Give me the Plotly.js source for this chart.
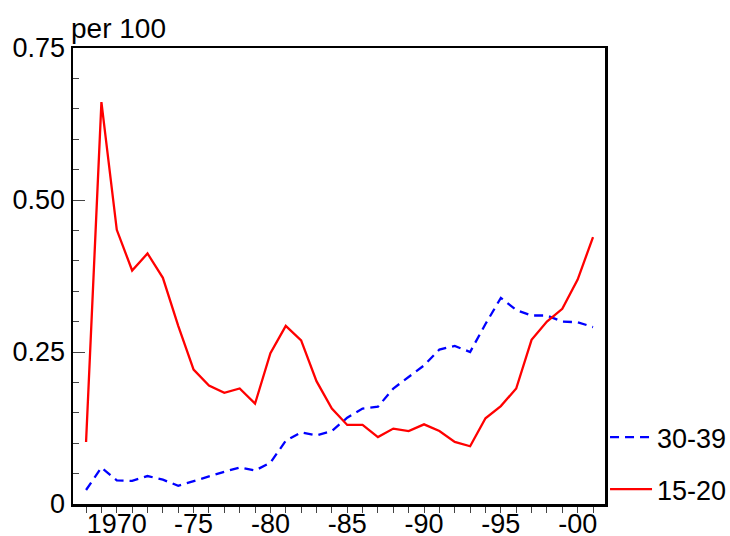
<!DOCTYPE html>
<html>
<head>
<meta charset="utf-8">
<script src="https://cdn.plot.ly/plotly-3.0.1.min.js"></script>
<style>html,body{margin:0;padding:0;background:#fff;}#chart{width:730px;height:536px;}</style>
</head>
<body>
<div id="chart"></div>
<script>
const years = [1968,1969,1970,1971,1972,1973,1974,1975,1976,1977,1978,1979,1980,1981,1982,1983,1984,1985,1986,1987,1988,1989,1990,1991,1992,1993,1994,1995,1996,1997,1998,1999,2000,2001];
const age30_39 = [0.023,0.060,0.039,0.038,0.046,0.040,0.030,0.038,0.046,0.053,0.060,0.055,0.068,0.104,0.118,0.113,0.120,0.142,0.157,0.160,0.190,0.209,0.228,0.254,0.260,0.250,0.296,0.339,0.319,0.310,0.310,0.300,0.299,0.291];
const age15_20 = [0.102,0.661,0.451,0.384,0.412,0.372,0.293,0.221,0.195,0.183,0.190,0.165,0.248,0.293,0.269,0.202,0.157,0.130,0.130,0.110,0.124,0.120,0.131,0.120,0.102,0.095,0.141,0.161,0.190,0.270,0.300,0.321,0.369,0.439];
const seriesNames = ["30-39","15-20"];
const xTickVals = [1970,1975,1980,1985,1990,1995,2000];
const xTickText = ["1970","-75","-80","-85","-90","-95","-00"];
const yTickVals = [0,0.25,0.5,0.75];
const yTickText = ["0","0.25","0.50","0.75"];
const yUnit = "per 100";

const font = {family: "Liberation Sans, Arial, sans-serif", size: 27, color: "#000"};

const traces = [
  {x: years, y: age30_39, name: seriesNames[0], type: "scatter", mode: "lines",
   line: {color: "#0000ff", width: 2.3, dash: "9px,6px"}, legendgroup: "a"},
  {x: years, y: age15_20, name: seriesNames[1], type: "scatter", mode: "lines",
   line: {color: "#ff0000", width: 2.3}, legendgroup: "b"}
];

const layout = {
  width: 730, height: 536,
  margin: {l: 73, r: 125, t: 48, b: 32, pad: 0, autoexpand: false},
  paper_bgcolor: "#fff", plot_bgcolor: "#fff",
  font: font,
  showlegend: true,
  legend: {xref: "container", yref: "container", x: 0.8288, xanchor: "left", y: 0.041, yanchor: "bottom",
           traceorder: "grouped", tracegroupgap: 14, itemwidth: 42, font: font,
           bgcolor: "rgba(0,0,0,0)", borderwidth: 0},
  xaxis: {
    range: [1967.15, 2001.78], tickmode: "array", tickvals: xTickVals, ticktext: xTickText,
    ticks: "outside", ticklen: 6, tickwidth: 1, tickcolor: "#444",
    minor: {ticks: "outside", ticklen: 6, tickwidth: 1, tickcolor: "#444", tick0: 1968, dtick: 1},
    showline: true, linecolor: "#000", linewidth: 2.5, mirror: true, ticklabelstandoff: -12,
    showgrid: false, zeroline: false, tickfont: font, fixedrange: true, automargin: false
  },
  yaxis: {
    range: [0, 0.75], tickmode: "array", tickvals: yTickVals, ticktext: yTickText,
    ticks: "inside", ticklen: 12, tickwidth: 1, tickcolor: "#444",
    minor: {ticks: "inside", ticklen: 6, tickwidth: 1, tickcolor: "#444", tick0: 0, dtick: 0.05},
    showline: true, linecolor: "#000", linewidth: 2.5, mirror: true,
    showgrid: false, zeroline: false, tickfont: font, fixedrange: true, automargin: false
  },
  annotations: [{
    text: yUnit, xref: "paper", yref: "paper", x: 0, y: 1, xanchor: "left", yanchor: "bottom",
    showarrow: false, font: {family: font.family, size: 28, color: "#000"}, xshift: -4, yshift: 2
  }]
};

Plotly.newPlot("chart", traces, layout, {displayModeBar: false, staticPlot: true});
</script>
</body>
</html>
